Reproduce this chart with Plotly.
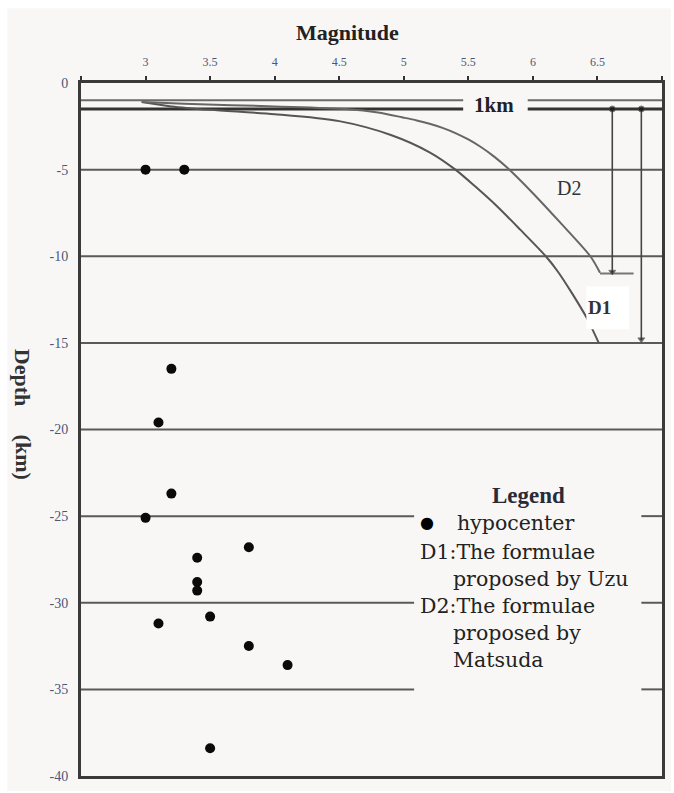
import plotly.graph_objects as go

# ---------------- data ----------------
hypo_mag = [3.0, 3.3, 3.2, 3.1, 3.2, 3.0, 3.8, 3.4, 3.4, 3.4, 3.5, 3.1, 3.8, 4.1, 3.5]
hypo_depth = [-5.0, -5.0, -16.5, -19.6, -23.7, -25.1, -26.8, -27.4, -28.8, -29.3, -30.8, -31.2, -32.5, -33.6, -38.4]

d1_mag = [2.97, 3.2, 3.5, 4.0, 4.5, 4.9, 5.2, 5.40, 5.55, 5.72, 5.90, 6.10, 6.19, 6.30, 6.42, 6.51]
d1_depth = [-1.1, -1.35, -1.55, -1.8, -2.2, -3.0, -4.0, -5.0, -5.95, -7.1, -8.45, -10.0, -10.85, -12.1, -13.6, -15.0]

d2_mag = [2.97, 3.3, 4.0, 4.55, 4.8, 5.0, 5.1, 5.2, 5.3, 5.4, 5.5, 5.6, 5.7, 5.8, 6.0, 6.2, 6.445, 6.52]
d2_depth = [-1.1, -1.2, -1.35, -1.5, -1.7, -2.0, -2.16, -2.35, -2.59, -2.89, -3.26, -3.71, -4.25, -4.88, -6.36, -7.96, -10.0, -10.95]
d2_end_mag = [6.52, 6.78]
d2_end_depth = [-11.0, -11.0]

arrow_mag = [6.615, 6.84]
arrow_top = [-1.5, -1.5]
arrow_bottom = [-10.9, -14.8]

grid_depths = [-5, -10, -15, -20, -25, -30, -35]
gapped_depths = [-25, -30, -35]
legend_gap = [5.08, 6.84]
km_lines = [-1.0, -1.5]
km_gap = [5.46, 5.96]

x_ticks = [2.5, 3, 3.5, 4, 4.5, 5, 5.5, 6, 6.5, 7]
x_ticklabels = ["", "3", "3.5", "4", "4.5", "5", "5.5", "6", "6.5", ""]
y_ticks = [0, -5, -10, -15, -20, -25, -30, -35, -40]
y_ticklabels = ["0", "-5", "-10", "-15", "-20", "-25", "-30", "-35", "-40"]

XMIN, XMAX = 2.5, 7.0
BG = "#f8f7f5"
GRID = "#5a5a5a"

fig = go.Figure()

# gridlines (horizontal) with gap for legend
for d in grid_depths:
    if d in gapped_depths:
        segs = [(XMIN, legend_gap[0]), (legend_gap[1], XMAX)]
    else:
        segs = [(XMIN, XMAX)]
    for a, b in segs:
        fig.add_shape(type="line", x0=a, x1=b, y0=d, y1=d, xref="x", yref="y",
                      line=dict(color=GRID, width=2), layer="below")

# 1km lines
for d, w, c in zip(km_lines, [2, 3], ["#6a6a6a", "#333333"]):
    for a, b in [(XMIN, km_gap[0]), (km_gap[1], XMAX)]:
        fig.add_shape(type="line", x0=a, x1=b, y0=d, y1=d, xref="x", yref="y",
                      line=dict(color=c, width=w), layer="below")

# background (white border top/left)
fig.add_shape(type="rect", xref="paper", yref="paper",
              x0=(7 - 81) / 584, x1=(674 - 81) / 584,
              y0=(778 - 793) / 695, y1=(778 - 8) / 695,
              fillcolor=BG, line=dict(width=0), layer="below")

# curves
fig.add_trace(go.Scatter(x=d1_mag, y=d1_depth, mode="lines",
                         line=dict(color="#555", width=2, shape="spline", smoothing=0.8),
                         showlegend=False, hoverinfo="skip"))
fig.add_trace(go.Scatter(x=d2_mag, y=d2_depth, mode="lines",
                         line=dict(color="#666", width=2, shape="spline", smoothing=0.8),
                         showlegend=False, hoverinfo="skip"))
fig.add_trace(go.Scatter(x=d2_end_mag, y=d2_end_depth, mode="lines", line=dict(color="#777", width=2),
                         showlegend=False, hoverinfo="skip"))

# arrows
for xm, yt, yb in zip(arrow_mag, arrow_top, arrow_bottom):
    fig.add_trace(go.Scatter(x=[xm, xm], y=[yt, yb], mode="lines+markers",
                             line=dict(color="#444", width=1.6),
                             marker=dict(symbol=["circle", "triangle-down"], size=[6, 6], color="#111"),
                             showlegend=False, hoverinfo="skip"))

# hypocenters
fig.add_trace(go.Scatter(x=hypo_mag, y=hypo_depth, mode="markers",
                         marker=dict(symbol="circle", size=10, color="#0a0a0a"),
                         showlegend=False, hoverinfo="skip"))

# white box behind D1 label
fig.add_shape(type="rect", xref="paper", yref="paper",
              x0=(589 - 81) / 584, x1=(632 - 81) / 584,
              y0=(778 - 330) / 695, y1=(778 - 287) / 695,
              fillcolor="white", line=dict(width=0), layer="above")

def px(xp):
    return (xp - 81) / 584

def py(yp):
    return (778 - yp) / 695

ann = []
serif_b = "Liberation Serif"
slab = "DejaVu Serif"
ann.append(dict(text="<b>Magnitude</b>", x=px(349), y=py(32), font=dict(family=serif_b, size=22, color="#222")))
ann.append(dict(text="<b>1km</b>", x=px(496), y=py(105), font=dict(family=serif_b, size=21, color="#222")))
ann.append(dict(text="D2", x=px(572), y=py(188), font=dict(family=serif_b, size=20, color="#333")))
ann.append(dict(text="<b>D1</b>", x=px(602), y=py(308), font=dict(family=serif_b, size=19, color="#333")))
ann.append(dict(text="<b>Depth</b>", x=px(23), y=py(378), textangle=90, font=dict(family=serif_b, size=22, color="#333")))
ann.append(dict(text="<b>(km)</b>", x=px(23), y=py(458), textangle=90, font=dict(family=serif_b, size=22, color="#333")))
ann.append(dict(text="<b>Legend</b>", x=px(531), y=py(497), font=dict(family=serif_b, size=23, color="#2a2a38")))
ann.append(dict(text="●", x=px(429), y=py(524), font=dict(family="DejaVu Sans", size=16, color="#000")))
legend_lines = [
    ("hypocenter", 457, 524),
    ("D1:The formulae", 420, 553),
    ("proposed by Uzu", 453, 580),
    ("D2:The formulae", 420, 608),
    ("proposed by", 453, 635),
    ("Matsuda", 453, 662),
]
for t, xx, yy in legend_lines:
    ann.append(dict(text=t, x=px(xx), y=py(yy), xanchor="left",
                    font=dict(family=slab, size=20.5, color="#222")))
for a in ann:
    a.setdefault("xanchor", "center")
    a.update(xref="paper", yref="paper", yanchor="middle", showarrow=False)

fig.update_layout(
    width=674, height=793,
    margin=dict(l=81, r=9, t=83, b=15),
    paper_bgcolor="white",
    plot_bgcolor="rgba(0,0,0,0)",
    annotations=ann,
    xaxis=dict(range=[XMIN, XMAX], side="top", tickvals=x_ticks, ticktext=x_ticklabels,
               ticks="outside", ticklen=4, tickwidth=2, tickcolor="#333", ticklabelstandoff=5,
               showgrid=False, zeroline=False, showline=True, linewidth=3, linecolor="#3a3a3a",
               mirror=True, tickfont=dict(family=serif_b, size=12, color="#4a5878")),
    yaxis=dict(range=[-40, 0], tickvals=y_ticks, ticktext=y_ticklabels, ticks="",
               ticklabelstandoff=7,
               showgrid=False, zeroline=False, showline=True, linewidth=3, linecolor="#3a3a3a",
               mirror=True, tickfont=dict(family=serif_b, size=14, color="#4a5878")),
)

fig.write_html("out.html")
